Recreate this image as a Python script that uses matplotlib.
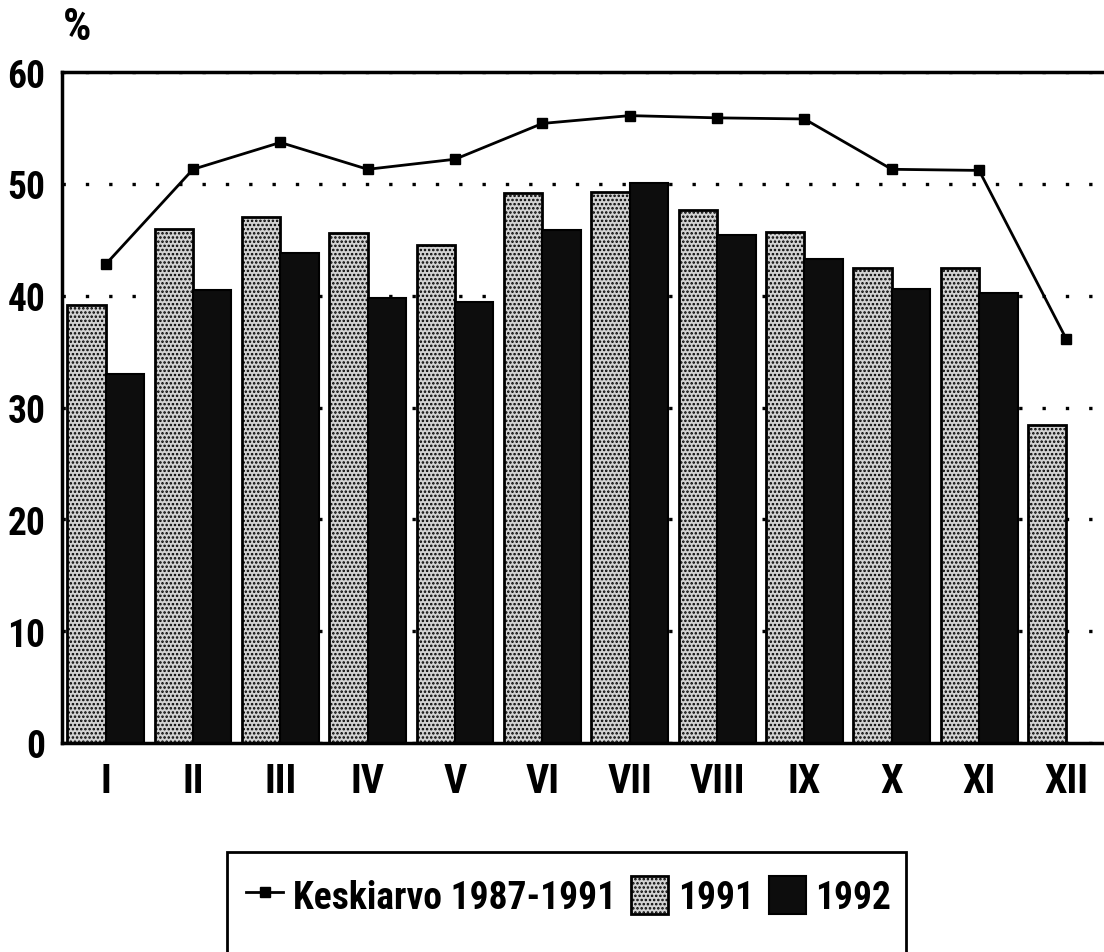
import matplotlib
matplotlib.use("Agg")
import matplotlib.pyplot as plt
from matplotlib.patches import Rectangle
import numpy as np

# data
months = ["I", "II", "III", "IV", "V", "VI", "VII", "VIII", "IX", "X", "XI", "XII"]
avg_87_91 = [42.8, 51.3, 53.7, 51.3, 52.2, 55.4, 56.1, 55.9, 55.8, 51.3, 51.2, 36.1]
y1991 = [39.2, 46.0, 47.0, 45.6, 44.5, 49.2, 49.3, 47.7, 45.7, 42.5, 42.5, 28.4]
y1992 = [33.0, 40.5, 43.8, 39.8, 39.4, 45.9, 50.1, 45.4, 43.3, 40.6, 40.2, np.nan]

plt.rcParams['font.family'] = ['Roboto Condensed', 'DejaVu Sans']
plt.rcParams['font.weight'] = 'bold'
plt.rcParams['hatch.linewidth'] = 1.2

W, H = 1104, 953
fig = plt.figure(figsize=(W / 100, H / 100), dpi=100)
ax = fig.add_axes([62 / W, 1 - 744 / H, 1 - 62 / W, (744 - 73) / H])

x = np.arange(len(months))
w = 0.44

ax.yaxis.grid(True, linestyle=(0, (1, 6)), color='black', linewidth=2.4, zorder=0)
ax.set_axisbelow(True)

b1 = ax.bar(x - w / 2, y1991, w, facecolor='#d2d2d2', edgecolor='black',
            hatch='....', linewidth=2, zorder=2, label='1991')
b2 = ax.bar(x + w / 2, y1992, w, facecolor='#0d0d0d', edgecolor='black',
            linewidth=1.5, zorder=2, label='1992')
ln, = ax.plot(x, avg_87_91, color='black', linewidth=2, marker='s', markersize=7,
              zorder=3, label='Keskiarvo 1987-1991')

ax.set_xlim(-0.5, 11.43)
ax.set_ylim(0, 60)
ax.set_yticks([0, 10, 20, 30, 40, 50, 60])
ax.set_xticks(x)
ax.set_xticklabels(months)
ax.tick_params(axis='both', length=0)
ax.tick_params(axis='y', pad=12, labelsize=27)
ax.tick_params(axis='x', pad=14, labelsize=29)

for s in ['left', 'top', 'bottom']:
    ax.spines[s].set_linewidth(2.5)
ax.spines['right'].set_visible(False)

fig.text(77 / W, 1 - 28 / H, '%', fontsize=32, fontweight='bold', va='center', ha='center')

# legend box runs past the bottom edge of the picture, like the cropped scan
fig.add_artist(Rectangle((227 / W, -0.05), (906 - 227) / W, (953 - 853) / H + 0.05,
                         transform=fig.transFigure, fill=False, edgecolor='black',
                         linewidth=2, zorder=5))
leg = fig.legend(handles=[ln, b1, b2], loc='upper left',
                 bbox_to_anchor=(227 / W, 1 - 858 / H), ncol=3,
                 fontsize=27, frameon=False,
                 handlelength=1.0, handleheight=1.2, handletextpad=0.25,
                 columnspacing=0.4, borderpad=0.5, borderaxespad=0)

fig.savefig('out.png', dpi=100)
